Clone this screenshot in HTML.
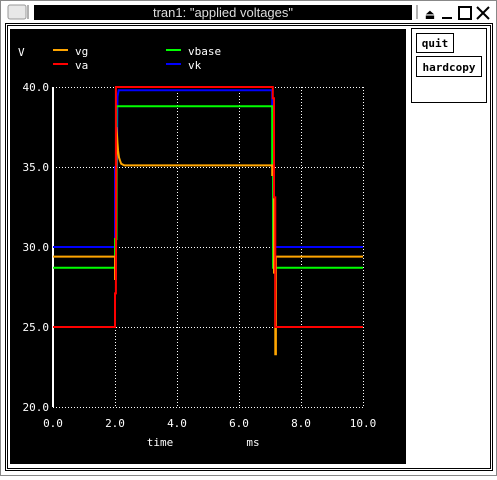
<!DOCTYPE html>
<html><head><meta charset="utf-8"><style>
body{margin:0;width:497px;height:476px;overflow:hidden;background:#fff;font-family:"DejaVu Sans Mono","Liberation Mono",monospace;}
</style></head><body>
<svg width="497" height="476" xmlns="http://www.w3.org/2000/svg">
<rect x="0" y="0" width="497" height="476" fill="#fff"/>
<rect x="0.5" y="0.5" width="496" height="475" fill="none" stroke="#888"/>
<rect x="8" y="5" width="18" height="14" rx="2" fill="#e8e8e8" stroke="#999"/>
<line x1="28" y1="5" x2="28" y2="19" stroke="#666"/>
<rect x="34" y="5" width="378" height="15" fill="#000"/>
<text x="223" y="17" fill="#ddd" font-family="Liberation Sans, sans-serif" font-size="13" text-anchor="middle">tran1: "applied voltages"</text>
<line x1="417" y1="5" x2="417" y2="19" stroke="#666"/>
<text x="430" y="19" font-size="14" text-anchor="middle">⏏</text>
<rect x="442" y="17" width="10" height="2" fill="#000"/>
<rect x="459" y="7" width="12" height="12" fill="none" stroke="#000" stroke-width="2"/>
<path d="M477 7 L489 19 M489 7 L477 19" stroke="#000" stroke-width="2"/>
<rect x="5.5" y="23.5" width="487" height="447" fill="none" stroke="#000"/>
<rect x="7.5" y="25.5" width="483" height="443" fill="none" stroke="#000"/>
<rect x="10" y="29" width="396" height="435" fill="#000"/>
<rect x="411.5" y="28.5" width="75" height="74" fill="none" stroke="#000"/>
<rect x="416.5" y="33.5" width="37" height="19" fill="#fff" stroke="#000"/>
<text x="435" y="47" font-size="11" font-weight="bold" text-anchor="middle">quit</text>
<rect x="416.5" y="56.5" width="65" height="20" fill="#fff" stroke="#000"/>
<text x="449" y="71" font-size="11" font-weight="bold" text-anchor="middle">hardcopy</text>
<g id="plot"></g>
</svg>
<script>
const xTicks=[0,2,4,6,8,10];
const yTicks=[20,25,30,35,40];
const xTickLabels=["0.0","2.0","4.0","6.0","8.0","10.0"];
const yTickLabels=["20.0","25.0","30.0","35.0","40.0"];
const seriesNames=["vg","va","vbase","vk"];
const seriesColors=["#ffa500","#ff0000","#00ff00","#0000ff"];
const vgT=[0,2.0,2.0,2.03,2.05,2.08,2.1,2.13,2.16,2.2,2.3,7.07,7.07,7.13,7.13,7.17,7.17,7.19,7.19,10];
const vgV=[29.4,29.4,28.0,28.0,37.5,36.5,36.0,35.6,35.4,35.2,35.1,35.1,34.5,34.5,28.4,28.4,23.3,23.3,29.4,29.4];
const vaT=[0,2.0,2.0,2.03,2.03,7.09,7.09,7.13,7.13,7.17,7.17,10];
const vaV=[25,25,27.1,27.1,40,40,39.3,39.3,33.1,33.1,25,25];
const vbaseT=[0,2.0,2.0,2.05,2.05,7.07,7.07,7.1,7.1,10];
const vbaseV=[28.7,28.7,30.5,30.5,38.8,38.8,35.0,35.0,28.7,28.7];
const vkT=[0,2.0,2.0,2.06,2.08,2.12,7.07,7.07,7.1,7.1,10];
const vkV=[30.0,30.0,35,35,39.4,39.8,39.8,38.5,38.5,30.0,30.0];
const X0=53,X1=363,Y0=407,Y1=87;
function sx(t){return X0+(t-0)/(10-0)*(X1-X0);}
function sy(v){return Y0-(v-20)/(40-20)*(Y0-Y1);}
const NS="http://www.w3.org/2000/svg";
const g=document.getElementById('plot');
function mk(tag,attrs){const e=document.createElementNS(NS,tag);for(const k in attrs)e.setAttribute(k,attrs[k]);g.appendChild(e);return e;}
xTicks.forEach((t,i)=>{
 if(i>0){const l=mk('line',{x1:sx(t)+0.5,y1:Y1,x2:sx(t)+0.5,y2:Y0,stroke:'#fff','stroke-dasharray':'1,2'});
 
 }
 const tx=mk('text',{x:sx(t),y:427,fill:'#fff','font-size':'11','text-anchor':'middle'});tx.textContent=xTickLabels[i];
 
 
});
yTicks.forEach((v,i)=>{
 const l=mk('line',{x1:X0,y1:sy(v)+0.5,x2:X1,y2:sy(v)+0.5,stroke:'#fff','stroke-dasharray':'1,2'});
 
 
 const tx=mk('text',{x:49,y:sy(v)+4,fill:'#fff','font-size':'11','text-anchor':'end'});tx.textContent=yTickLabels[i];
 
 
});
const ax=mk('line',{x1:X0,y1:Y1,x2:X0,y2:Y0,stroke:'#fff','stroke-width':2});


const xt=mk('text',{x:160,y:446,fill:'#fff','font-size':'11','text-anchor':'middle'});xt.textContent='time';


const xu=mk('text',{x:253,y:446,fill:'#fff','font-size':'11','text-anchor':'middle'});xu.textContent='ms';


const yu=mk('text',{x:18,y:56,fill:'#fff','font-size':'11'});yu.textContent='V';


const legPos=[[53,52],[53,66],[166,52],[166,66]];
seriesNames.forEach((n,i)=>{
 const l=mk('line',{x1:legPos[i][0],y1:legPos[i][1]-2,x2:legPos[i][0]+15,y2:legPos[i][1]-2,stroke:seriesColors[i],'stroke-width':2});
 
 
 const t=mk('text',{x:legPos[i][0]+22,y:legPos[i][1]+3,fill:'#fff','font-size':'11'});t.textContent=n;
 
 
});
const data=[[vkT,vkV,3],[vbaseT,vbaseV,2],[vgT,vgV,0],[vaT,vaV,1]];
data.forEach(([T,V,ci])=>{
 const pts=T.map((t,i)=>sx(t).toFixed(1)+','+sy(V[i]).toFixed(1)).join(' ');
 const p=mk('polyline',{points:pts,fill:'none',stroke:seriesColors[ci],'stroke-width':2});
 
 
});
</script>
</body></html>
